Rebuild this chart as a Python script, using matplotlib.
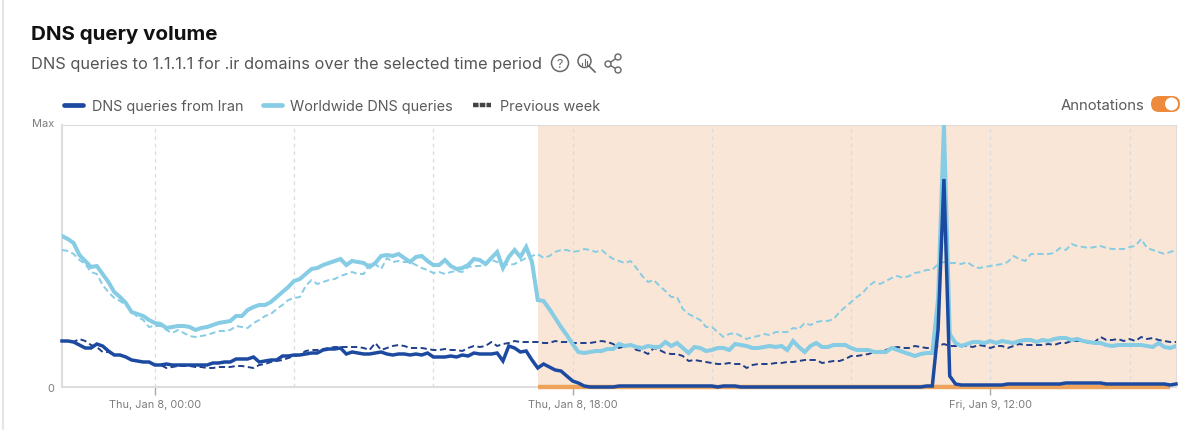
import matplotlib
matplotlib.use("Agg")
import matplotlib.pyplot as plt
from matplotlib.lines import Line2D
from matplotlib.patches import Circle, FancyBboxPatch
from matplotlib.transforms import ScaledTranslation
import pandas as pd

plt.rcParams['font.family'] = ['Inter', 'DejaVu Sans']

# Normalised volume (262 = "Max"), one value every 15 minutes
iran = [46,46,45,42,39,39,43,41,36,32,32,30,27,26,25,25,22,22,23,22,22,22,22,22,22,22,24,24,25,25,
        28,28,28,30,25,26,27,27,31,31,32,32,33,34,34,37,38,38,39,33,35,34,33,33,34,35,33,32,33,33,
        32,33,32,34,30,30,30,31,30,32,31,34,33,33,33,34,26,41,39,35,36,27,19,23,20,17,16,11,6,4,
        1,0,0,0,0,0,1,1,1,1,
        1,1,1,1,1,1,1,1,1,1,
        1,1,1,0,1,1,1,0,0,0,
        0,0,0,0,0,0,0,0,0,0,
        0,0,0,0,0,0,0,0,0,0,
        0,0,0,0,0,0,0,0,0,1,
        1,58,208,11,3,
        2,2,2,2,2,2,2,2,3,3,
        3,3,3,3,3,3,3,3,4,4,
        4,4,4,4,4,3,3,3,3,3,
        3,3,3,3,3,3,2,3]
worldwide = [151,148,144,132,126,120,121,113,105,95,90,84,75,73,71,67,64,63,59,60,61,61,60,57,59,60,62,64,65,66,
             71,71,77,80,82,82,85,90,95,100,106,108,113,118,119,122,124,126,128,122,126,125,124,120,124,131,132,131,133,129,
             125,130,131,126,122,122,127,121,118,119,122,128,127,123,129,135,119,130,137,130,140,125,87,86,78,69,60,52,43,35,
             34,35,36,36,38,38,43,41,42,40,39,41,40,40,45,41,44,39,34,40,39,36,37,39,39,37,43,42,41,39,39,40,41,40,41,37,
             46,40,35,41,44,40,40,42,42,42,39,37,37,37,35,35,35,39,37,35,33,31,33,34,34,88,262,53,44,41,
             43,45,45,44,46,44,46,45,44,46,47,47,45,47,46,48,49,49,47,48,46,45,44,44,42,41,42,42,42,42,42,41,40,44,40,39,41]
iran_prev = [46,46,45,48,46,42,40,35,35,32,32,30,27,26,25,25,22,22,19,20,21,21,21,20,20,19,19,20,20,20,
             21,21,20,19,22,23,25,26,27,29,31,32,36,37,37,38,39,40,40,40,40,40,39,37,44,37,39,41,42,41,
             39,39,39,38,37,37,38,37,37,36,39,41,40,41,45,41,43,44,46,45,45,45,45,44,44,46,45,45,44,44,
             44,44,45,46,45,43,39,41,42,37,36,33,39,37,34,33,33,31,26,27,26,25,24,23,23,24,23,23,19,22,23,23,23,24,24,25,
             25,26,27,27,27,24,25,26,26,28,31,31,32,33,35,36,37,39,40,39,39,41,40,39,39,41,43,41,41,
             41,41,40,42,41,39,41,41,39,41,43,42,42,42,42,43,42,44,44,46,46,46,44,45,50,47,47,48,46,48,46,50,48,49,47,46,45,45]
worldwide_prev = [137,136,133,127,123,115,113,102,95,89,86,82,76,70,67,60,61,61,57,54,57,54,51,50,51,52,54,56,56,57,
                  61,60,59,64,67,71,73,78,82,87,89,90,101,107,103,105,107,108,111,113,115,113,113,123,123,118,129,125,126,125,
                  125,122,119,117,114,115,113,115,116,115,120,121,121,122,127,125,123,122,123,126,129,131,133,129,131,135,137,137,135,136,
                  138,137,135,137,132,128,126,124,126,119,111,105,107,101,96,90,90,78,73,70,67,60,60,55,50,53,54,51,48,50,51,53,52,55,
                  55,55,59,58,64,62,65,66,66,68,75,80,85,90,94,101,105,103,106,109,111,109,111,114,115,117,117,123,125,124,124,
                  123,125,121,119,120,121,122,123,125,131,128,126,133,133,133,133,134,139,137,143,141,140,139,140,141,139,138,138,138,140,141,148,139,137,135,133,135,137]

series_names = ['DNS queries from Iran', 'Worldwide DNS queries', 'Previous week']
major_labels = ['Thu, Jan 8, 00:00', 'Thu, Jan 8, 18:00', 'Fri, Jan 9, 12:00']
major_times = pd.to_datetime(['2026-01-08 00:00', '2026-01-08 18:00', '2026-01-09 12:00'])
minor_times = pd.date_range('2026-01-08 00:00', '2026-01-09 18:00', freq='6h')
times = pd.date_range('2026-01-07 20:00', periods=193, freq='15min')
outage_start = pd.Timestamp('2026-01-08 16:30')
outage_end = pd.Timestamp('2026-01-09 19:45')

W, H = 1200, 431
DARK, LIGHT = '#1c4aa0', '#86cce4'
fig = plt.figure(figsize=(W / 100, H / 100), dpi=100, facecolor='white')
ax = fig.add_axes([62 / W, 1 - 388 / H, (1176 - 62) / W, (388 - 126) / H])
fx = lambda p: p / W
fy = lambda p: 1 - p / H

ax.axvspan(outage_start, times[-1], color='#f9e6d6', lw=0, zorder=0)
ax.set_xlim(times[0], times[-1])
ax.set_ylim(0, 262)
ax.set_xticks(major_times)
ax.set_xticklabels(major_labels)
ax.set_xticks(minor_times, minor=True)
ax.set_yticks([0, 262])
ax.set_yticklabels(['0', 'Max'])
ax.tick_params(axis='x', which='major', length=5.5, width=1, color='#aaaaaa', labelsize=7.9,
               labelcolor='#7c7c7c', pad=3.5)
ax.tick_params(axis='x', which='minor', length=0)
ax.tick_params(axis='y', length=0, labelsize=7.9, labelcolor='#7c7c7c', pad=5.5)
max_label = ax.yaxis.get_major_ticks()[1].label1
max_label.set_transform(max_label.get_transform() + ScaledTranslation(0, 3 / 100, fig.dpi_scale_trans))
ax.grid(axis='x', which='both', color='#dcdcdc', lw=0.9, ls=(0, (3, 3)), zorder=1)
ax.set_axisbelow(True)
for side, c, w in [('left', '#dddddd', 1.5), ('bottom', '#dddddd', 1.5), ('top', '#dddddd', 0.8), ('right', '#dddddd', 0.8)]:
    ax.spines[side].set_color(c)
    ax.spines[side].set_linewidth(w)

ax.hlines(0, outage_start, outage_end, color='#eda35c', lw=3.2, clip_on=False, zorder=3)
ax.plot(times, worldwide_prev, color=LIGHT, lw=1.4, ls=(0, (3.2, 1.8)), zorder=4, clip_on=False)
ax.plot(times, iran_prev, color='#1f3f8c', lw=1.4, ls=(0, (3.2, 1.8)), zorder=5, clip_on=False)
ax.plot(times, worldwide, color=LIGHT, lw=2.9, zorder=6, clip_on=True, solid_joinstyle='miter')
ax.plot(times, iran, color=DARK, lw=2.5, zorder=7, clip_on=False, solid_joinstyle='miter')

handles = [Line2D([], [], color=DARK, lw=3.4, solid_capstyle='round'),
           Line2D([], [], color=LIGHT, lw=3.4, solid_capstyle='round'),
           Line2D([], [], color='#444444', lw=3.2, ls=(0, (1.25, 0.27)))]
ax.legend(handles, series_names, ncol=3, frameon=False, loc='lower left',
          bbox_to_anchor=(0.002, 1.047), borderaxespad=0, borderpad=0, fontsize=10.4, labelcolor='#5a5a5a',
          handlelength=1.3, handletextpad=0.6, columnspacing=1.36)

fig.text(fx(31), fy(35), 'DNS query volume', fontsize=14.8, fontweight='bold', color='#111111', va='center')
fig.text(fx(31), fy(65), 'DNS queries to 1.1.1.1 for .ir domains over the selected time period', fontsize=11.8,
         color='#555555', va='center')
fig.text(fx(1061), fy(106), 'Annotations', fontsize=10.7, color='#5a5a5a', va='center')

# overlay in pixel space for the small interface controls
ov = fig.add_axes([0, 0, 1, 1], facecolor='none')
ov.set_xlim(0, W); ov.set_ylim(H, 0); ov.axis('off')
ov.add_patch(FancyBboxPatch((1151, 97), 29, 16, boxstyle='round,pad=0,rounding_size=8', fc='#ed8a3c', ec='none'))
ov.add_patch(Circle((1171.5, 105), 6.5, fc='white', ec='none'))
ov.plot([3, 3], [0, H], color='#e6e6e6', lw=1.5)
ov.add_patch(Circle((560, 64), 8.5, fc='none', ec='#666666', lw=1.1))
ov.text(560, 65, '?', ha='center', va='center', fontsize=9, color='#666666')
ov.add_patch(Circle((584.5, 62), 6.5, fc='none', ec='#666666', lw=1.1))
ov.plot([589, 595], [67, 73], color='#666666', lw=1.2)
for bx, top in [(582, 64), (584.5, 60), (587, 62)]:
    ov.plot([bx, bx], [66, top], color='#666666', lw=0.8)
share = [(608, 65), (618, 58), (618, 71)]
ov.plot([share[1][0], share[0][0], share[2][0]], [share[1][1], share[0][1], share[2][1]], color='#666666', lw=1)
for sx, sy in share:
    ov.add_patch(Circle((sx, sy), 3, fc='white', ec='#666666', lw=1, zorder=3))

fig.savefig('out.png', dpi=100, facecolor='white')
